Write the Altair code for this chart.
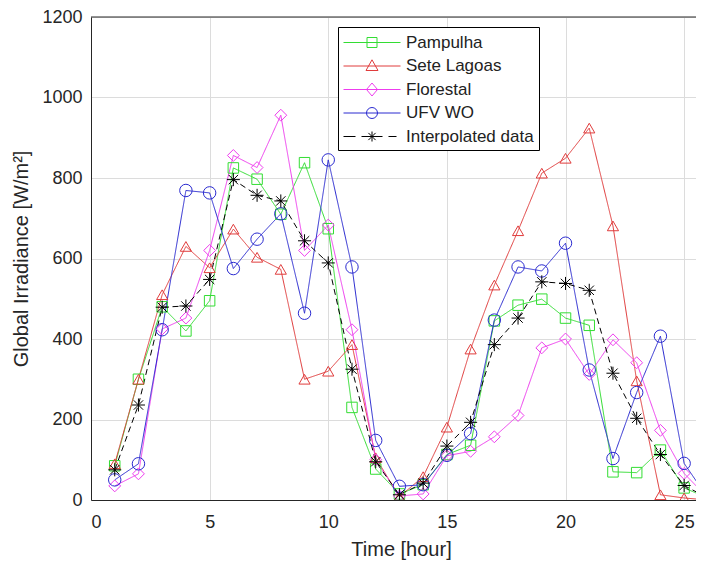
import altair as alt
import pandas as pd

# ---------------- data ----------------
hours = list(range(1, 27))
series_names = ["Pampulha", "Sete Lagoas", "Florestal", "UFV WO", "Interpolated data"]

pampulha = [85, 300, 480, 420, 495, 825, 797, 710, 838, 674, 230, 77, 15, 38, 113, 136,
            445, 484, 499, 452, 434, 70, 68, 124, 30, 5]
sete_lagoas = [90, 300, 510, 630, 577, 673, 603, 573, 300, 320, 386, 105, 8, 58, 181, 375,
               534, 669, 812, 849, 924, 681, 296, 13, 5, 0]
florestal = [35, 65, 425, 452, 620, 856, 826, 956, 620, 683, 423, 100, 10, 15, 110, 121,
             157, 210, 378, 400, 312, 398, 341, 173, 66, 5]
ufv_wo = [50, 90, 423, 769, 763, 575, 648, 711, 464, 845, 579, 148, 34, 38, 111, 165,
          447, 579, 569, 638, 323, 103, 267, 407, 91, 5]
interpolated = [75, 236, 479, 482, 548, 796, 757, 743, 644, 589, 325, 95, 13, 42, 134, 193,
                386, 452, 542, 538, 521, 315, 203, 113, 36, 5]

x_ticks = [0, 5, 10, 15, 20, 25]
y_ticks = [0, 200, 400, 600, 800, 1000, 1200]
X_MAX = 25.5
Y_MAX = 1200

# ---------------- styles ----------------
colors = ["#33dd33", "#e03c3c", "#ee3cee", "#2a2ad0", "#000000"]
dashes = [[1, 0], [1, 0], [1, 0], [1, 0], [6, 4]]
asterisk = "M-1,0H1M0,-1V1M-0.72,-0.72L0.72,0.72M-0.72,0.72L0.72,-0.72"
marker_shapes = ["square", "triangle-up", "diamond", "circle", asterisk]
marker_sizes = [110, 170, 200, 170, 150]

values = [pampulha, sete_lagoas, florestal, ufv_wo, interpolated]
rows = []
for name, vals in zip(series_names, values):
    for h, v in zip(hours, vals):
        rows.append({"hour": h, "value": v, "series": name})
df = pd.DataFrame(rows)

# legend symbols: line + marker drawn as custom paths (unit = 10 px)
mx = 1.85
line = "M-1,0H4.7"
leg_square = line + f"M{mx-0.5},-0.5H{mx+0.5}V0.5H{mx-0.5}Z"
leg_tri = line + f"M{mx},-0.62L{mx+0.6},0.45L{mx-0.6},0.45Z"
leg_diam = line + f"M{mx},-0.65L{mx+0.55},0L{mx},0.65L{mx-0.55},0Z"
leg_circ = line + (f"M{mx-0.55},0A0.55,0.55 0 1,0 {mx+0.55},0"
                   f"A0.55,0.55 0 1,0 {mx-0.55},0Z")
leg_ast = ("M-1,0H0.2M0.8,0H1.35M2.35,0H2.9M3.5,0H4.3"
           f"M{mx-0.5},0H{mx+0.5}M{mx},-0.5V0.5"
           f"M{mx-0.36},-0.36L{mx+0.36},0.36M{mx-0.36},0.36L{mx+0.36},-0.36")
legend_paths = [leg_square, leg_tri, leg_diam, leg_circ, leg_ast]

x_enc = alt.X("hour:Q", scale=alt.Scale(domain=[0, X_MAX], nice=False, zero=False),
              axis=alt.Axis(values=x_ticks, title="Time [hour]", format="d",
                            titleX=310, titleY=55, titleBaseline="alphabetic",
                            titleAlign="center", labelPadding=13))
y_enc = alt.Y("value:Q", scale=alt.Scale(domain=[0, Y_MAX], nice=False),
              axis=alt.Axis(values=y_ticks, title="Global Irradiance [W/m²]", format="d",
                            titleX=-64, titleBaseline="alphabetic", labelPadding=9))

def color_enc(legend=None):
    return alt.Color("series:N", scale=alt.Scale(domain=series_names, range=colors),
                     legend=legend)

lines = alt.Chart(df).mark_line(strokeWidth=1, clip=True).encode(
    x=x_enc, y=y_enc, color=color_enc(),
    strokeDash=alt.StrokeDash("series:N",
                              scale=alt.Scale(domain=series_names, range=dashes),
                              legend=None),
)

points = alt.Chart(df).mark_point(filled=False, strokeWidth=1, opacity=1, clip=True).encode(
    x="hour:Q", y="value:Q", color=color_enc(),
    shape=alt.Shape("series:N", scale=alt.Scale(domain=series_names, range=marker_shapes),
                    legend=None),
    size=alt.Size("series:N", scale=alt.Scale(domain=series_names, range=marker_sizes),
                  legend=None),
)

leg = alt.Legend(title=None, orient="none", legendX=247, legendY=10)
legend_layer = alt.Chart(df).transform_filter("false").mark_point(
    filled=False, strokeWidth=1, opacity=1).encode(
    x="hour:Q", y="value:Q",
    shape=alt.Shape("series:N", scale=alt.Scale(domain=series_names, range=legend_paths),
                    legend=leg),
    color=color_enc(leg),
)

top_rule = alt.Chart(pd.DataFrame({"top": [Y_MAX]})).mark_rule(
    color="#262626", strokeWidth=1).encode(y="top:Q")

chart = alt.layer(lines, points, legend_layer, top_rule).resolve_scale(
    shape="independent", color="independent"
).properties(
    width=605, height=483,
    padding={"left": 83, "top": 9, "right": 0, "bottom": 62},
    autosize=alt.AutoSizeParams(type="none"),
).configure_view(stroke=None).configure_axis(
    labelFont="Liberation Sans", titleFont="Liberation Sans",
    labelFontSize=18, titleFontSize=20, labelColor="#262626", titleColor="#262626",
    titleFontWeight="normal", domainColor="#262626", domainWidth=1,
    gridColor="#dcdcdc", gridWidth=1, ticks=False, tickSize=0,
).configure_legend(
    labelFont="Liberation Sans", labelFontSize=17, labelColor="#222222",
    symbolSize=400, symbolStrokeWidth=1, labelOffset=42, rowPadding=4.5,
    padding=5, strokeColor="#000000", fillColor="#ffffff", cornerRadius=0,
    labelLimit=300,
)

chart.save("out.html", embed_options={"renderer": "svg", "actions": False})
